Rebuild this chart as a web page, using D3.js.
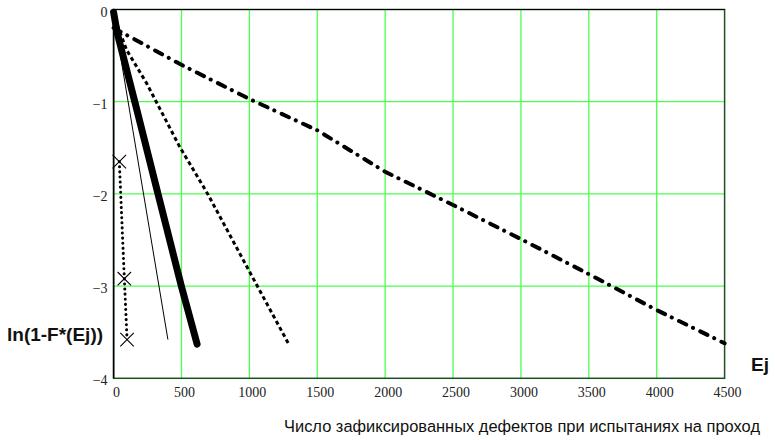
<!DOCTYPE html>
<html>
<head>
<meta charset="utf-8">
<script src="https://cdn.jsdelivr.net/npm/d3@7"></script>
<style>
  body { margin: 0; background: #fff; }
  svg { display: block; }
</style>
</head>
<body>
<div id="chart"></div>
<script>
// tick values
const xTicks = [0, 500, 1000, 1500, 2000, 2500, 3000, 3500, 4000, 4500];
const yTicks = [0, -1, -2, -3, -4];

// series: E (defects) and ln(1-F*(E))
const thickE  = [0, 26, 156, 327, 499, 615];
const thickLn = [-0.03, -0.25, -1, -2, -3, -3.63];

const thinE  = [0, 22, 142, 400];
const thinLn = [-0.03, -0.25, -1.31, -3.58];

const dashE  = [10, 96, 243, 487, 693, 1000, 1290];
const dashLn = [-0.1, -0.44, -0.8, -1.49, -2, -2.84, -3.63];

const dashDotE  = [0, 500, 1000, 1500, 2000, 2500, 3000, 3500, 4000, 4500];
const dashDotLn = [-0.2, -0.6, -0.97, -1.31, -1.76, -2.12, -2.49, -2.87, -3.26, -3.62];

const crossE  = [42, 79, 99];
const crossLn = [-1.65, -2.92, -3.58];

const W = 775, H = 440;
const margin = { top: 9.5, left: 113.6, right: 50.4, bottom: 61.7 };
const width = W - margin.left - margin.right;
const height = H - margin.top - margin.bottom;

const serif = "'Liberation Serif', 'DejaVu Serif', 'Times New Roman', serif";
const sans = "'Liberation Sans', Arial, sans-serif";

const svg = d3.select("#chart").append("svg")
    .attr("width", W)
    .attr("height", H);

const g = svg.append("g")
    .attr("transform", "translate(" + margin.left + "," + margin.top + ")");

const x = d3.scaleLinear().domain([0, 4500]).range([0, width]);
const y = d3.scaleLinear().domain([-4, 0]).range([height, 0]);

// grid
g.selectAll(".vgrid").data(xTicks.slice(1, -1)).enter().append("line")
    .attr("x1", d => x(d)).attr("x2", d => x(d))
    .attr("y1", 0).attr("y2", height)
    .attr("stroke", "#4dff4d").attr("stroke-width", 1.3);

g.selectAll(".hgrid").data(yTicks.slice(1, -1)).enter().append("line")
    .attr("x1", 0).attr("x2", width)
    .attr("y1", d => y(d)).attr("y2", d => y(d))
    .attr("stroke", "#4dff4d").attr("stroke-width", 1.3);

// frame
g.append("rect")
    .attr("width", width).attr("height", height)
    .attr("fill", "none").attr("stroke", "#1f4f1f").attr("stroke-width", 1.5);
g.append("line").attr("x1", 0).attr("x2", 0).attr("y1", 0).attr("y2", height)
    .attr("stroke", "#000").attr("stroke-width", 1.5);
g.append("line").attr("x1", 0).attr("x2", width).attr("y1", 0).attr("y2", 0)
    .attr("stroke", "#000").attr("stroke-width", 1.2);

// tick labels
g.selectAll(".xl").data(xTicks).enter().append("text")
    .attr("font-family", serif).attr("font-size", 14).attr("fill", "#222")
    .attr("x", d => x(d) + 3)
    .attr("y", height + 19)
    .attr("text-anchor", "middle")
    .text(d => d);

g.selectAll(".yl").data(yTicks).enter().append("text")
    .attr("font-family", serif).attr("font-size", 14).attr("fill", "#222")
    .attr("x", -6)
    .attr("y", d => y(d) + 7)
    .attr("text-anchor", "end")
    .text(d => d === 0 ? "0" : "\u2212" + Math.abs(d));

const line = d3.line().x(d => x(d[0])).y(d => y(d[1]));
const zip = (a, b) => a.map((v, i) => [v, b[i]]);

g.append("path").datum(zip(dashDotE, dashDotLn))
    .attr("d", line).attr("fill", "none").attr("stroke", "#000")
    .attr("stroke-width", 4).attr("stroke-linecap", "round")
    .attr("stroke-dasharray", "8,7.5,0.1,8");

g.append("path").datum(zip(dashE, dashLn))
    .attr("d", line).attr("fill", "none").attr("stroke", "#000")
    .attr("stroke-width", 3).attr("stroke-dasharray", "4,3");

g.append("path").datum(zip(thinE, thinLn))
    .attr("d", line).attr("fill", "none").attr("stroke", "#000")
    .attr("stroke-width", 1);

g.append("path").datum(zip(thickE, thickLn))
    .attr("d", line).attr("fill", "none").attr("stroke", "#000")
    .attr("stroke-width", 7).attr("stroke-linecap", "round");

g.append("path").datum(zip(crossE, crossLn))
    .attr("d", line).attr("fill", "none").attr("stroke", "#000")
    .attr("stroke-width", 3).attr("stroke-linecap", "round")
    .attr("stroke-dasharray", "0.1,5");

const cross = d3.symbol().type(d3.symbolX).size(120);
g.selectAll(".cross").data(zip(crossE, crossLn)).enter().append("path")
    .attr("d", cross)
    .attr("transform", d => "translate(" + x(d[0]) + "," + y(d[1]) + ")")
    .attr("fill", "none").attr("stroke", "#000").attr("stroke-width", 1.1);

// axis titles
svg.append("text")
    .attr("font-family", sans).attr("font-weight", "bold").attr("font-size", 19)
    .attr("fill", "#111")
    .attr("x", 7).attr("y", 341)
    .text("ln(1-F*(Ej))");

svg.append("text")
    .attr("font-family", sans).attr("font-weight", "bold").attr("font-size", 19)
    .attr("fill", "#111")
    .attr("x", 751).attr("y", 371)
    .text("Ej");

svg.append("text")
    .attr("font-family", sans).attr("font-size", 16.3).attr("fill", "#111")
    .attr("x", 284).attr("y", 432)
    .attr("textLength", 476).attr("lengthAdjust", "spacingAndGlyphs")
    .text("Число зафиксированных дефектов при испытаниях на проход");
</script>
</body>
</html>
